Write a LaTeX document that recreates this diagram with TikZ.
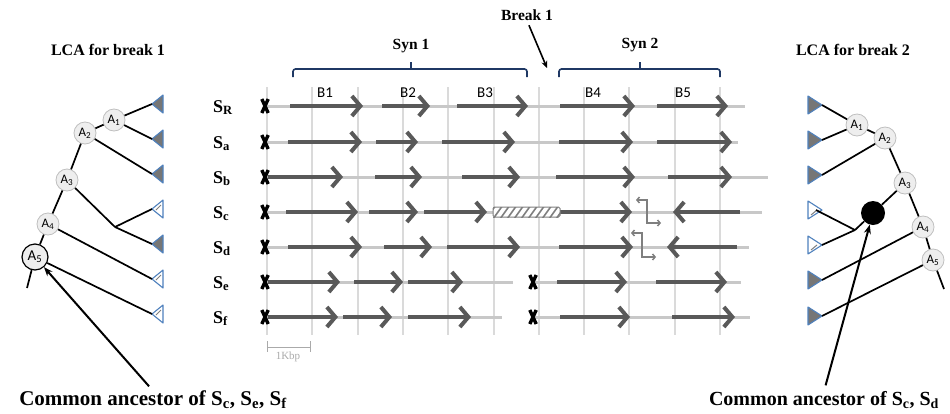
\documentclass[tikz,border=0pt]{standalone}
\usepackage{fontspec}
\setmainfont{Liberation Serif}
\newfontfamily\calib{Carlito}
\usetikzlibrary{arrows.meta}

\definecolor{dk}{HTML}{595959}
\definecolor{lt}{HTML}{C8C8C8}
\definecolor{grd}{HTML}{DADADA}
\definecolor{navy}{HTML}{1F3864}
\definecolor{tblue}{HTML}{4F81BD}
\definecolor{tgray}{HTML}{767676}
\definecolor{ngray}{HTML}{EEEEEE}
\definecolor{nbord}{HTML}{BFBFBF}
\definecolor{invg}{HTML}{7F7F7F}
\definecolor{sbar}{HTML}{AAAAAA}

\tikzset{
  gridline/.style={grd, line width=2pt},
  track/.style={lt, line width=3pt},
  blk/.style={dk, line width=4pt, -{Straight Barb[length=8.5pt,width=20pt]}},
  invarrow/.style={invg, line width=1.5pt, {Straight Barb[length=2.5pt,width=6pt]}-{Straight Barb[length=2.5pt,width=6pt]}},
  xcross/.pic={\draw[black, line width=3.4pt] (-3.2,-7) -- (3.2,7) (-3.2,7) -- (3.2,-7);},
  rowlbl/.style={anchor=base west, inner sep=0pt, font=\bfseries\fontsize{18}{18}\selectfont},
  blbl/.style={font=\calib\fontsize{15}{15}\selectfont, inner sep=0pt},
  boldlbl/.style={font=\bfseries\fontsize{15.5}{16}\selectfont, inner sep=0pt},
  titlelbl/.style={font=\bfseries\fontsize{16}{16}\selectfont, inner sep=0pt},
  captxt/.style={font=\bfseries\fontsize{21}{22}\selectfont, inner sep=0pt},
  brace/.style={navy, line width=1.6pt, rounded corners=2.5pt},
  anode/.style={circle, fill=ngray, draw=nbord, line width=0.8pt, minimum size=22pt, inner sep=0pt, font=\calib\fontsize{13}{13}\selectfont},
  rootnode/.style={anode, draw=black, line width=1.2pt, minimum size=26pt, font=\calib\fontsize{15}{15}\selectfont},
  blacknode/.style={circle, fill=black, minimum size=24pt, inner sep=0pt},
  tedge/.style={black, line width=1.7pt},
  filltri/.style={fill=tgray, draw=tblue, line width=1.1pt, line join=round},
  opentri/.style={fill=white, draw=tblue, line width=1.1pt, line join=round},
  callout/.style={black, line width=2pt, -{Stealth[length=9pt,width=7pt]}},
}

\begin{document}
\begin{tikzpicture}[x=1pt,y=-1pt]
\useasboundingbox (0,0) rectangle (950,413);

% ---------- grid ----------
\foreach \k in {0,...,10}
  \draw[gridline] ({267+45.3*\k},87) -- ({267+45.3*\k},335);

% ---------- light tracks ----------
\draw[track] (267,106) -- (745,106);
\draw[track] (267,142) -- (738,142);
\draw[track] (267,177) -- (768,177);
\draw[track] (267,212) -- (762,212);
\draw[track] (267,247) -- (749,247);
\draw[track] (267,282) -- (513,282);
\draw[track] (533,282) -- (741,282);
\draw[track] (267,317) -- (502,317);
\draw[track] (533,317) -- (750,317);

% ---------- blocks ----------
\foreach \a/\b in {290/363, 382/430, 457/528, 560/635, 657/728}
  \draw[blk] (\a,106) -- (\b,106);
\foreach \a/\b in {288/362, 376/418, 442/515, 559/633, 657/732}
  \draw[blk] (\a,142) -- (\b,142);
\foreach \a/\b in {268/343, 375/422, 462/520, 556/635, 668/732}
  \draw[blk] (\a,177) -- (\b,177);
\foreach \a/\b in {286/358, 369/418, 424/487, 560/632, 740/673}
  \draw[blk] (\a,212) -- (\b,212);
\foreach \a/\b in {288/362, 384/432, 447/520, 559/633, 737/667}
  \draw[blk] (\a,247) -- (\b,247);
\foreach \a/\b in {268/340, 354/403, 408/463, 557/627, 656/727}
  \draw[blk] (\a,282) -- (\b,282);
\foreach \a/\b in {268/338, 343/392, 408/471, 560/630, 672/735}
  \draw[blk] (\a,317) -- (\b,317);

% hatched box (S_c)
\fill[white] (493,207) rectangle (560,217);
\begin{scope}
  \clip (493,207) rectangle (560,217);
  \foreach \i in {0,...,10}
    \draw[invg, line width=1.6pt] ({486+\i*7},219) -- ({496+\i*7},205);
\end{scope}
\draw[invg, line width=1pt, rounded corners=1.5pt] (493,207) rectangle (560,217);

% inversion symbols
\draw[invarrow] (636,200) -- (647,200) -- (647,223) -- (661,223);
\draw[invarrow] (631,233) -- (642,233) -- (642,257) -- (656,257);

% X marks
\foreach \y in {106,142,177,212,247,282,317}
  \pic at (265,\y) {xcross};
\pic at (533,282) {xcross};
\pic at (533,317) {xcross};

% ---------- row labels ----------
\node[rowlbl] (sR) at (213,112) {S\textsubscript{R}};
\node[rowlbl] (sa) at (213,148) {S\textsubscript{a}};
\node[rowlbl] (sb) at (213,183) {S\textsubscript{b}};
\node[rowlbl] (sc) at (213,218) {S\textsubscript{c}};
\node[rowlbl] (sd) at (213,253) {S\textsubscript{d}};
\node[rowlbl] (se) at (213,288) {S\textsubscript{e}};
\node[rowlbl] (sf) at (213,323) {S\textsubscript{f}};

% ---------- block labels ----------
\node[blbl] (B1) at (325,93) {B1};
\node[blbl] (B2) at (408,93) {B2};
\node[blbl] (B3) at (485,93) {B3};
\node[blbl] (B4) at (593,93) {B4};
\node[blbl] (B5) at (683,93) {B5};

% ---------- braces ----------
\draw[brace] (293,77) -- (293,69) -- (527,69) -- (527,77);
\draw[navy, line width=1.6pt] (411,69) -- (411,62);
\draw[brace] (559,77) -- (559,69) -- (720,69) -- (720,77);
\draw[navy, line width=1.6pt] (640,69) -- (640,62);
\node[boldlbl] (syn1) at (411,46) {Syn 1};
\node[boldlbl] (syn2) at (640,45) {Syn 2};

\node[boldlbl] (brk) at (527,15) {Break 1};
\coordinate (brkpt) at (547,68);
\draw[black, line width=1.6pt, -{Stealth[length=7pt,width=6pt]}, shorten <=5pt] (brk.south) -- (brkpt);

% ---------- scale bar ----------
\draw[sbar, line width=1pt] (267,341) -- (267,352) (267,347) -- (310,347) (310,341) -- (310,352);
\node[font=\fontsize{11}{11}\selectfont, text=sbar, inner sep=0pt] (kbp) at (288,357) {1Kbp};

% ---------- left tree ----------
\node[titlelbl] (t1) at (108,50) {LCA for break 1};
\foreach \y in {104,139,174,244}
  \filldraw[filltri] (152,\y) -- (163,\y-9) -- (163,\y+9) -- cycle;
\foreach \y in {209,279,314} {
  \filldraw[opentri] (152,\y) -- (163,\y-9) -- (163,\y+9) -- cycle;
  \draw[invg, line width=1pt] (156,\y+1) -- (161,\y-4);
}
\coordinate (lR) at (152,104);
\coordinate (la) at (152,139);
\coordinate (lb) at (152,174);
\coordinate (lc) at (152,209);
\coordinate (ld) at (152,244);
\coordinate (le) at (152,279);
\coordinate (lf) at (152,314);
\coordinate (lJ) at (115,227);
\coordinate (lroot) at (27,288);

\node[anode] (LA1) at (114,120) {A\textsubscript{1}};
\node[anode] (LA2) at (85,133) {A\textsubscript{2}};
\node[anode] (LA3) at (67,180) {A\textsubscript{3}};
\node[anode] (LA4) at (48,224) {A\textsubscript{4}};
\node[rootnode] (LA5) at (35,257) {A\textsubscript{5}};

\draw[tedge] (LA1) -- (lR);
\draw[tedge] (LA1) -- (la);
\draw[tedge] (LA2) -- (LA1);
\draw[tedge] (LA2) -- (lb);
\draw[tedge] (LA3) -- (LA2);
\draw[tedge] (LA3) -- (lJ);
\draw[tedge] (lJ) -- (lc);
\draw[tedge] (lJ) -- (ld);
\draw[tedge] (LA4) -- (LA3);
\draw[tedge] (LA4) -- (le);
\draw[tedge] (LA5) -- (LA4);
\draw[tedge] (LA5) -- (lf);
\draw[tedge] (LA5) -- (lroot);

% ---------- right tree ----------
\node[titlelbl] (t2) at (853,50) {LCA for break 2};
\foreach \y in {105,140,175,280,316}
  \filldraw[filltri] (822,\y) -- (808,\y-9) -- (808,\y+9) -- cycle;
\foreach \y in {210,245} {
  \filldraw[opentri] (822,\y) -- (808,\y-9) -- (808,\y+9) -- cycle;
  \draw[invg, line width=1pt] (811,\y+5) -- (817,\y);
}
\coordinate (rR) at (822,105);
\coordinate (ra) at (822,140);
\coordinate (rb) at (822,175);
\coordinate (rc) at (816,210);
\coordinate (rd) at (822,245);
\coordinate (re) at (822,280);
\coordinate (rf) at (822,316);
\coordinate (rJ) at (855,230);
\coordinate (rroot) at (944,289);

\node[anode] (RA1) at (857,125) {A\textsubscript{1}};
\node[anode] (RA2) at (885,138) {A\textsubscript{2}};
\node[anode] (RA3) at (905,183) {A\textsubscript{3}};
\node[anode] (RA4) at (923,227) {A\textsubscript{4}};
\node[anode] (RA5) at (933,260) {A\textsubscript{5}};
\node[blacknode] (K) at (873,213) {};

\draw[tedge] (RA1) -- (rR);
\draw[tedge] (RA1) -- (ra);
\draw[tedge] (RA2) -- (RA1);
\draw[tedge] (RA2) -- (rb);
\draw[tedge] (RA3) -- (RA2);
\draw[tedge] (RA3) -- (K);
\draw[tedge] (K) -- (rJ);
\draw[tedge] (rJ) -- (rc);
\draw[tedge] (rJ) -- (rd);
\draw[tedge] (RA4) -- (RA3);
\draw[tedge] (RA4) -- (re);
\draw[tedge] (RA5) -- (RA4);
\draw[tedge] (RA5) -- (rf);
\draw[tedge] (RA5) -- (rroot);

% ---------- captions ----------
\node[captxt] (ca1) at (153,400) {Common ancestor of S\textsubscript{c}, S\textsubscript{e}, S\textsubscript{f}};
\node[captxt, font=\bfseries\fontsize{20}{21}\selectfont] (ca2) at (824,400) {Common ancestor of S\textsubscript{c}, S\textsubscript{d}};
\draw[callout, shorten <=6pt] (ca1.north) -- (LA5);
\draw[callout, shorten <=6pt] (ca2.north) -- (K);

\end{tikzpicture}
\end{document}
